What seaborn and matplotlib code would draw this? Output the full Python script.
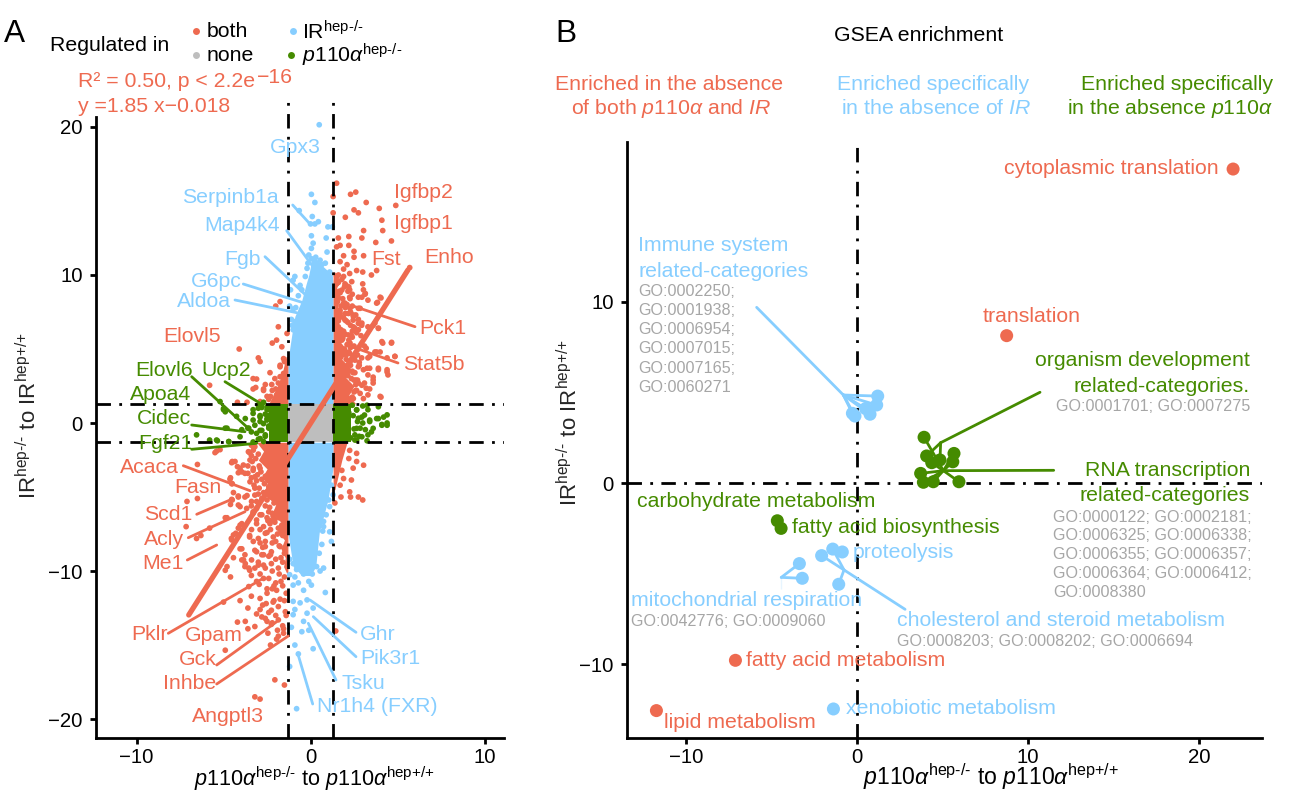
"""Panels A/B: regulation scatter and GSEA enrichment."""
import matplotlib
matplotlib.use("Agg")

import matplotlib.pyplot as plt
import pandas as pd
import seaborn as sns
from matplotlib.lines import Line2D
from matplotlib.transforms import Affine2D

RED = "#EE6A50"
BLUE = "#87CEFF"
GREEN = "#458B00"
GREY = "#BEBEBE"
TXT_GREY = "#A6A6A6"
PALETTE = {"both": RED, "none": GREY, "ir": BLUE, "p110": GREEN}

# ── panel A, scattered genes ──────────────────────────────────────────────────
both_x = [1.5, 1.3, 2.3, 2.6, 3.2, 4.9, 3.95, 2.5, 2.75, 1.3, 2.0, 4.1, 4.15, 3.05, 2.95, 2.2, 1.6, 1.5,
          4.65, 3.75, 2.2, 1.7, 2.5, 1.9, 3.05, 1.7, 2.5, 2.1, 5.7, 3.8, 3.5, 3.0, 2.65, 2.25, 1.9, 1.5,
          4.05, 3.85, 2.95, 3.15, 2.25, 2.75, 3.6, 3.9, 2.95, 2.45, 4.15, 4.65, 3.8, 4.85, 4.4, 3.9, 4.45,
          3.25, 3.6, 2.95, 4.0, 2.6, 2.9, 2.4, 3.1, 2.2, 2.7, 2.3, 3.3, 2.8, 2.4, 3.4, 2.6, 2.2, 3.0,
          -4.1, -5.8, -3.0, -2.9, -3.3, -3.15, -2.6, -2.7, -2.2, -2.2, -1.85, -1.35, -1.75, -2.0, -1.65,
          -1.95, -1.55, -1.75, -2.05, -1.85, -1.55, -2.3, -2.4,
          -5.4, -6.5, -4.5, -4.2, -3.95, -4.6, -4.5, -6.5, -7.1, -4.5, -4.15, -3.65, -4.6, -4.05, -4.8,
          -5.8, -7.15, -6.3, -6.55, -4.3, -4.55, -4.05, -3.95, -3.95, -4.8, -4.6, -3.75, -3.55, -2.7,
          -3.1, -3.55, -4.05, -5.0, -3.4, -2.9, -2.5, -1.95, -3.6, -2.9, -2.25, -1.85, -1.45, -2.8, -2.5,
          -1.85, -4.2, -3.75, -3.2, -3.6, -1.85, -2.3, -4.9, -2.05, -1.5, -3.2, -2.9, 1.45,
          2.25, 2.65, 2.2, 2.65, 3.05, 2.45, 1.8, 1.9, 2.35, 1.7, 2.25, 1.75, 2.75, 3.0, 2.3, 1.4,
          -3.3, -2.9, -2.5, -2.2, -3.1, -2.7, -2.3, -1.9, -3.5, -3.0, -2.6, -2.2, -1.8, -1.5, -3.2, -2.8,
          -2.4, -2.0, -1.6, -3.0, -2.6, -2.2, -1.8, -1.5, -2.9, -2.4, -2.0, -1.6, -1.4, -2.2, -3.4, -1.5,
          -2.1, -1.4, -2.2, -3.6, -3.4, -3.2, -3.4, -3.1,
          # upper right, closer read
          3.04, 3.13, 4.0, 3.8, 2.75, 3.3, 2.27, 1.98, 2.37, 1.8, 1.98, 2.27, 2.85, 2.18, 1.98, 2.75, 2.46, 2.75,
          2.94, 3.3, 3.9, 3.7, 1.7, 1.6, 1.9, 2.18, 2.46, 1.8, 2.27, 2.75, 3.2, 3.7, 4.0, 4.1, 4.66, 4.85, 4.4,
          3.4, 2.94, 3.04, 3.4, 3.9, 4.4, 3.3, 3.6, 2.75, 2.55, 3.1, 3.6, 3.2, 2.75, 2.85, 3.3, 4.05, 2.46, 3.04,
          2.05, 2.3, 2.55, 2.15, 2.4, 2.05, 2.6, 1.85, 2.2, 2.5, 1.75, 2.05, 2.35, 1.7, 2.0, 2.15, 1.6, 1.9, 2.5,
          # lower left, closer read
          -5.49, -5.2, -4.53, -4.34, -4.05, -3.86, -4.15, -3.77, -3.29, -2.9, -3.48, -3.29, -3.57, -4.63, -4.53,
          -3.48, -3.2, -4.43, -4.15, -3.77, -4.53, -4.15, -3.39, -3.67, -3.2, -3.1, -3.3, -2.8, -4.9, -3.95, -4.15,
          -4.43, -4.53, -3.39, -3.5, -3.1, -2.9, -2.6, -2.33, -2.14, -1.85, -3.29, -2.9, -2.6, -4.05, -3.77, -4.43,
          -3.1, -2.7, -2.25, -1.75, -3.39, -3.0, -3.77, -3.5, -3.2, -2.7, -2.25, -1.85, -4.9, -3.85,
          -2.45, -2.05, -1.65, -2.5, -2.0, -1.6, -2.75, -2.3, -1.7, -2.95, -2.5, -2.1, -1.7, -2.55, -2.15, -1.75,
          -3.1, -2.75, -2.4, -2.0, -1.6, -2.6, -2.25, -1.9, -1.55, -2.45, -1.95, -1.55,
          # upper left, closer read
          -2.33, -2.7, -3.3, -2.23, -3.1, -1.75, -2.0, -1.95, -2.5, -2.9, -3.65, -4.2, -1.75, -1.5,
          # body of the upper right cloud
          1.55, 1.75, 1.95, 2.15, 2.4, 2.65, 1.6, 1.85, 2.1, 2.35, 2.6, 1.65, 1.9, 2.2, 2.45, 2.7, 1.55, 1.8,
          2.05, 2.3, 2.55, 2.8, 1.7, 1.95, 2.25, 2.5, 1.6, 1.85, 2.1, 2.4, 2.65, 1.75, 2.0, 2.3, 2.55, 1.6,
          1.9, 2.15, 2.45, 2.75, 1.7, 2.0, 2.3, 1.55, 1.85, 2.1, 2.4, 1.65, 1.95, 2.25, 1.5, 1.8, 2.05, 1.6, 1.9,
          # body of the lower left cloud
          -3.2, -3.4, -3.0, -3.5, -3.15, -3.35, -2.95, -3.6, -3.3, -3.05, -2.85, -3.4, -3.1, -2.8, -2.6, -3.25,
          -2.95, -2.65, -2.4, -3.0, -2.7, -2.45, -2.2, -2.8, -2.5, -2.25, -2.0, -2.6, -2.35, -2.1, -1.85, -2.4,
          -2.15, -1.9, -1.65, -2.3, -2.05, -1.8, -1.6]
both_y = [16.2, 15.3, 15.45, 15.6, 14.9, 14.7, 14.5, 14.4, 14.2, 14.2, 13.9, 13.7, 13.0, 13.0, 12.5, 12.6, 12.5, 11.9,
          12.3, 12.2, 12.0, 12.0, 11.6, 11.3, 11.3, 10.9, 11.2, 10.7, 10.5, 10.3, 10.0, 10.2, 10.3, 10.1, 9.9, 9.9,
          8.45, 8.15, 8.5, 8.75, 8.5, 7.75, 6.6, 6.4, 6.75, 6.95, 5.4, 5.4, 4.8, 4.5, 3.6, 3.6, 3.25,
          3.7, 2.9, 2.55, 1.8, 7.3, 5.9, 6.2, 5.2, 5.6, 4.6, 4.2, 4.4, 3.9, 7.9, 2.3, 2.2, 9.2, 9.4,
          5.0, 2.55, 4.4, 4.15, 3.0, 2.4, 2.6, 2.2, 2.2, 5.4, 6.5, 6.05, 8.2, 7.9, 5.15,
          5.6, 4.35, 3.8, 3.0, 2.7, 3.35, 1.8, 1.6,
          -1.9, -2.8, -2.6, -2.95, -3.3, -3.7, -4.1, -5.1, -5.3, -5.2, -5.0, -4.9, -5.5, -5.65, -6.4,
          -7.1, -7.0, -7.6, -7.8, -7.45, -7.8, -6.9, -8.5, -9.25, -9.7, -10.4, -9.5, -9.8, -10.5,
          -10.7, -11.05, -12.0, -12.1, -11.7, -11.85, -11.5, -11.3, -12.5, -12.6, -12.65, -12.4, -12.75, -13.1, -13.4,
          -13.3, -13.45, -13.4, -13.75, -13.9, -14.4, -15.0, -15.35, -17.35, -17.7, -18.5, -18.65, -14.05,
          -1.85, -2.05, -2.4, -2.6, -2.85, -3.05, -3.2, -3.75, -3.85, -4.2, -4.65, -5.0, -5.0, -5.2, -5.0, -5.4,
          -6.0, -6.2, -6.4, -6.1, -6.8, -7.0, -7.2, -7.5, -7.6, -7.8, -8.0, -8.1, -8.3, -8.8, -8.6, -8.9,
          -9.0, -9.2, -9.4, -9.6, -9.8, -10.0, -10.2, -10.4, -10.2, -10.5, -10.8, -11.0, -11.5, -11.2, -10.3, -12.0,
          -12.0, -13.0, -13.5, -3.4, -2.2, -4.4, -5.6, -5.3,
          # upper right, closer read
          9.0, 8.7, 8.5, 8.1, 8.5, 8.3, 8.4, 9.4, 9.55, 8.98, 8.1, 7.75, 7.75, 7.4, 6.96, 6.73, 7.2, 6.3,
          6.6, 6.5, 6.4, 6.75, 7.4, 6.5, 6.2, 5.95, 6.5, 5.6, 5.4, 5.0, 5.05, 4.8, 4.8, 5.5, 5.45, 4.5, 4.4,
          4.5, 4.4, 3.6, 3.7, 3.7, 3.45, 3.25, 3.1, 3.8, 4.25, 2.7, 2.7, 2.35, 2.7, 2.0, 1.9, 1.75, 1.65, 1.65,
          4.6, 5.1, 3.4, 3.2, 3.5, 2.6, 2.9, 5.8, 4.8, 2.1, 7.9, 6.9, 5.9, 8.8, 7.4, 8.9, 9.5, 8.1, 2.9,
          # lower left, closer read
          -2.0, -1.8, -2.68, -2.6, -3.06, -2.84, -3.36, -3.4, -3.06, -3.06, -2.5, -1.83, -1.94, -3.8, -4.1,
          -3.97, -3.63, -4.7, -4.93, -5.0, -5.16, -5.54, -5.3, -5.77, -4.87, -5.77, -6.1, -6.2, -6.4, -6.8, -7.1,
          -7.56, -7.9, -7.2, -7.7, -6.55, -7.2, -7.45, -6.8, -7.7, -7.1, -8.0, -8.1, -8.35, -8.5, -8.9, -9.1,
          -8.7, -8.9, -8.7, -8.35, -9.25, -9.4, -9.7, -9.95, -9.8, -9.6, -9.5, -9.8, -9.95, -9.25,
          -6.6, -6.5, -6.9, -7.4, -8.0, -7.6, -8.4, -8.9, -9.1, -10.9, -11.2, -11.0, -10.7, -12.2, -12.1, -11.9,
          -12.9, -12.3, -12.8, -13.0, -13.7, -13.2, -13.6, -14.0, -13.9, -14.2, -14.6, -14.2,
          # upper left, closer read
          3.4, 2.3, 2.3, 2.6, 2.97, 3.13, 2.3, 1.9, 1.8, 1.45, 1.4, 1.4, 3.9, 4.15,
          # body of the upper right cloud
          1.6, 1.9, 1.5, 2.1, 1.75, 2.2, 2.5, 2.9, 2.4, 3.0, 2.6, 3.3, 3.1, 3.5, 3.4, 2.9, 4.0, 3.7,
          4.3, 3.9, 4.5, 4.1, 4.8, 5.0, 4.7, 5.2, 5.5, 5.7, 5.3, 5.8, 6.1, 6.3, 6.0, 6.6, 6.4, 6.9,
          7.1, 6.8, 7.3, 7.0, 7.6, 7.8, 7.5, 8.2, 8.4, 8.0, 8.7, 8.9, 9.2, 9.0, 9.4, 9.7, 9.3, 10.0, 10.4,
          # body of the lower left cloud
          -1.6, -1.5, -2.1, -2.0, -2.4, -2.6, -2.9, -2.9, -3.2, -3.5, -3.3, -3.7, -3.9, -3.8, -3.6, -4.2,
          -4.4, -4.1, -4.3, -4.8, -4.7, -4.6, -4.5, -5.1, -5.2, -5.0, -4.9, -5.6, -5.7, -5.4, -5.3, -6.0,
          -6.3, -5.9, -5.8, -6.6, -6.7, -6.4, -6.2]

ir_x = [0.5, 0.05, 0.25, -0.65, 0.1, 0.0, 0.25, 0.45, 1.0, 1.25, 0.05, 0.9, 0.15, 0.05, -0.1, 0.95, 0.05, -0.9, -1.0,
        -0.2, 0.65, 0.85, 1.1, -1.15, -0.5, -1.2, -1.0, -0.9, -1.0, 0.45, 0.75, -0.15, 0.3, 1.0,
        0.75, 0.55, -0.7, 0.85, -0.1, 0.05, -0.4, -1.0, -1.2, -0.9, -0.2, -1.0, -0.6, -0.9, 0.15, -0.2, -1.0,
        -1.1, -0.4, -0.1, -0.5, -0.9, 0.15, -0.7, -1.2, -0.8, 1.2, 1.1, 0.75, 0.75, 0.55, 1.1, 1.3, 0.65,
        -0.7, -0.85, -1.1, -1.05, -0.6, -0.3, 0.2, 0.55, -1.0, -0.8, -0.4, 0.1, 0.35, 0.5, 0.65, 0.7, 0.9, 1.05,
        1.2, -1.2]
ir_y = [20.15, 15.45, 14.9, 14.35, 13.95, 13.45, 13.45, 13.6, 13.25, 13.25, 12.65, 12.5, 12.15, 11.8, 11.35, 11.55, 11.1, 9.9, 9.65,
        10.45, 10.7, 10.8, 10.2, 9.0, 9.0, 7.9, 7.7, 6.85, 6.3, 10.1, 9.5, 10.8, 11.2, 9.7,
        -9.8, -10.0, -10.8, -11.45, -10.7, -10.95, -11.3, -10.95, -10.25, -10.4, -11.95, -12.05, -12.15, -12.6, -12.5, -12.85, -12.95,
        -13.8, -13.4, -14.0, -14.1, -15.0, -15.25, -15.6, -16.45, -19.3, -8.0, -7.35, -6.65, -7.0, -6.1, -5.65, -4.85, -5.0,
        8.6, 7.8, 7.0, 6.6, 9.3, 9.9, 10.6, 11.0, -9.5, -9.9, -10.2, -10.2, -9.7, -8.8, -8.2, -7.3, -6.2, -5.2,
        -4.2, -9.2]

p110_x = [-6.55, -5.8, -5.35, -4.7, -4.8, -5.0, -5.2, -4.25, -3.95, -3.55, -3.75, -3.3, -3.1, -3.3, -3.0, -2.7, -2.9, -2.6,
          -2.8, -3.0, -2.5, -2.7, -2.9, -2.4, -2.6, -2.3, -2.8, -2.5, -3.2, -3.4, -2.2, -2.4,
          4.4, 4.4, 4.1, 3.9, 3.4, 3.3, 3.25, 3.15, 3.5, 2.85, 2.55, 3.25, 2.65, 2.95, 2.65, 2.4, 2.7, 2.5, 2.3, 2.8, 2.2, 2.45, 3.0,
          -5.0, -4.9, -4.9, -5.4, -4.7, -4.05, -3.6, -3.3, -3.0, -2.9, -2.7, -2.9, -2.6, -2.9, -3.3, -2.5, -2.5, -2.4,
          2.65, 2.75, 2.65, 2.55, 3.1, 3.0, 3.4, 3.8, 4.2, 3.9, 3.6, 4.1, 4.4, 3.3, 2.95]
p110_y = [-0.8, -1.15, -1.2, -1.25, -0.35, 0.9, 1.45, 0.45, -0.45, -0.35, 0.3, 0.65, -0.7, 0.9, 1.2, 1.4, 0.1, 0.6,
          -0.5, -1.1, 1.1, -1.25, 0.4, -0.2, -0.9, 0.85, 1.05, 0.2, -0.15, -0.6, -1.1, 0.5,
          0.55, -0.15, -0.15, 0.3, 0.2, 0.9, 1.2, -0.45, -0.6, -0.35, -0.8, -1.2, -1.15, 0.4, 0.9, 1.2, 0.1, -0.4, -1.0, -0.9, 0.7, 0.5, 1.15,
          0.98, 0.76, -0.35, -1.15, -1.26, -0.93, -0.35, 0.2, 1.0, 0.5, -0.04, -0.5, -0.8, -1.05, -1.28, 0.9, 0.3, -0.35,
          0.88, 0.32, -0.36, -1.15, 0.54, 0.0, 0.1, 0.3, 0.4, 1.1, -0.36, -0.1, 0.0, -0.8, -0.93]

# dense parts of the cloud, given as outlines: level on y, extent on x
ir_up_y = [1.3, 3.8, 5.0, 6.1, 7.2, 8.3, 9.4, 10.0, 10.6, 11.2]
ir_up_lo = [-1.3, -1.3, -1.2, -1.06, -0.9, -0.5, -0.25, -0.1, 0.0, 0.05]
ir_up_hi = [1.3, 1.3, 1.3, 1.3, 1.3, 1.3, 1.3, 1.25, 0.7, 0.25]
ir_dn_y = [-1.3, -3.0, -5.2, -7.4, -9.7, -10.3]
ir_dn_lo = [-1.3, -1.3, -1.3, -1.3, -1.0, -0.5]
ir_dn_hi = [1.3, 1.3, 1.0, 0.5, 0.3, 0.0]
both_ur_y = [1.3, 1.9, 2.5, 3.1, 3.7, 4.3, 4.9, 5.5, 6.1, 6.7, 7.3, 7.9, 8.5, 9.1, 9.7, 10.2]
both_ur_hi = [2.6, 2.2, 2.5, 2.0, 2.3, 1.8, 2.1, 1.7, 1.95, 1.6, 1.85, 1.55, 1.75, 1.5, 1.65, 1.4]
both_ll_y = [-1.3, -1.9, -2.5, -3.1, -3.7, -4.3, -4.9, -5.5, -6.1, -6.7, -7.3, -7.9, -8.5, -9.1, -9.7, -10.2]
both_ll_lo = [-3.1, -2.7, -3.0, -2.5, -2.8, -2.3, -2.6, -2.0, -2.2, -1.7, -1.9, -1.5, -1.7, -1.45, -1.55, -1.35]
both_ul_y = [1.3, 2.5, 3.5, 4.5]
both_ul_lo = [-2.4, -1.9, -1.6, -1.4]
both_lr_y = [-1.3, -2.5, -3.5, -4.5]
both_lr_hi = [2.1, 1.8, 1.6, 1.4]
none_x = [-1.3, 1.3]
none_y = [-1.3, 1.3]
p110_left_x = [-2.4, -1.3]
p110_right_x = [1.3, 2.3]

fit_x = [-7.0, 5.6]
fit_y = [-12.97, 10.34]
CUT_X = 1.3
CUT_Y = 1.3

# ── panel B, enriched GO groups ───────────────────────────────────────────────
gsea_red_x = [21.99, 8.75, -7.11, -11.73]
gsea_red_y = [17.3, 8.12, -9.77, -12.54]
immune_x = [1.21, 1.15, 0.76, -0.12, -0.27, 0.5]
immune_y = [4.79, 4.3, 3.79, 3.69, 3.84, 4.1]
organism_x = [4.07, 4.85]
organism_y = [1.49, 1.27]
rna_x = [3.92, 4.37, 5.67, 5.6, 3.72, 3.88, 4.46, 5.96]
rna_y = [2.52, 1.12, 1.63, 1.17, 0.53, 0.04, 0.07, 0.07]
fasyn_x = [-4.66, -4.44]
fasyn_y = [-2.08, -2.5]
chol_x = [-1.42, -1.07, -2.07]
chol_y = [-3.64, -5.58, -4.0]
proteo_x = [-0.86]
proteo_y = [-3.8]
mito_x = [-3.37, -3.2]
mito_y = [-4.44, -5.25]
xeno_x = [-1.38]
xeno_y = [-12.45]

# ── labels ───────────────────────────────────────────────────────────────────
genes_red = ["Elovl5", "Acaca", "Fasn", "Scd1", "Acly", "Me1", "Pklr", "Gpam", "Gck", "Inhbe", "Angptl3",
             "Igfbp2", "Igfbp1", "Fst", "Enho", "Pck1", "Stat5b"]
genes_red_at = [(163, 335), (120, 466), (174, 486), (144, 513), (144, 538), (142, 562), (131, 633), (185, 634),
                (179, 658), (163, 682), (192, 715), (394, 191), (394, 222), (371, 258), (424, 256), (419, 327), (403, 363)]
genes_blue = ["Gpx3", "Serpinb1a", "Map4k4", "Fgb", "G6pc", "Aldoa", "Ghr", "Pik3r1", "Tsku", "Nr1h4 (FXR)"]
genes_blue_at = [(270, 146), (182, 196), (204, 224), (224, 258), (191, 280), (177, 300), (360, 633), (360, 657),
                 (342, 682), (317, 705)]
genes_green = ["Elovl6", "Ucp2", "Apoa4", "Cidec", "Fgf21"]
genes_green_at = [(135, 369), (201, 369), (130, 393), (137, 417), (138, 442)]

leaders_red = [((415, 326.7), (353, 306)), ((398, 363), (347, 345)), ((183.3, 465.7), (250, 490.7)),
               ((196.7, 514.3), (231.7, 499.3)), ((188.3, 537.7), (245, 511.7)), ((187.3, 560), (216.7, 545)),
               ((168.3, 633.3), (263.3, 578.3)), ((216.7, 665), (276.7, 621.7)), ((216.7, 684), (288.3, 636))]
leaders_blue = [((292.7, 205), (310, 224)), ((286.7, 230.7), (313, 266.7)), ((265, 256.7), (306.7, 296)),
                ((243.3, 284), (305, 303.3)), ((235, 300), (296.7, 312.7)), ((356, 632.3), (310, 600)),
                ((356, 656.7), (313.3, 616.7)), ((336, 680), (308.3, 623.3)), ((312.7, 704), (297.7, 653.3))]
leaders_green = [((191.7, 376.7), (248, 428)), ((225, 381.7), (263, 405)), ((191.7, 425), (245, 431.7)),
                 ((191.7, 449.3), (256.7, 443.3))]

immune_go = ["GO:0002250;", "GO:0001938;", "GO:0006954;", "GO:0007015;", "GO:0007165;", "GO:0060271"]
rna_go = ["GO:0000122; GO:0002181;", "GO:0006325; GO:0006338;", "GO:0006355; GO:0006357;",
          "GO:0006364; GO:0006412;", "GO:0008380"]

sns.set_theme(style="ticks")
plt.rcParams["font.family"] = ["Liberation Sans", "DejaVu Sans"]
plt.rcParams["mathtext.fontset"] = "custom"
plt.rcParams["mathtext.rm"] = "Liberation Sans"
plt.rcParams["mathtext.it"] = "Liberation Sans:italic"
plt.rcParams["mathtext.bf"] = "Liberation Sans:bold"
plt.rcParams["mathtext.default"] = "regular"
FS = 15.3
GO_FS = 11.6
LW = 2.0
KO = r"$^{\text{hep-/-}}$"
WT = r"$^{\text{hep+/+}}$"
P110 = r"$\mathit{p110\alpha}$"
DASHDOT = (0, (5.2, 3, 1, 3))

W, H = 1298, 793
fig = plt.figure(figsize=(W / 100, H / 100), dpi=100)
PX = Affine2D().scale(1, -1).translate(0, H)


def put(x, y, s, color="black", size=FS, ha="left", **kw):
    fig.text(x, y + 1.5, s, transform=PX, color=color, fontsize=size, ha=ha, va="center", **kw)


def rect(left, right, top, bottom):
    return [left / W, 1 - bottom / H, (right - left) / W, (bottom - top) / H]


def style_axes(ax, xticks, yticks, spine_top):
    sns.despine(ax=ax)
    for side in ("left", "bottom"):
        ax.spines[side].set_linewidth(2)
        ax.spines[side].set_color("black")
    ax.spines["left"].set_bounds(ax.get_ylim()[0], spine_top)
    ax.set_xticks(xticks)
    ax.set_yticks(yticks)
    ax.tick_params(width=2, length=4.5, color="black", labelsize=14.7, labelcolor="black")
    ax.tick_params(axis="x", pad=3)
    ax.tick_params(axis="y", pad=5)
    ax.patch.set_alpha(0)
    ax.set_xlabel("")
    ax.set_ylabel("")


# ── Panel A ──────────────────────────────────────────────────────────────────
ax = fig.add_axes(rect(96, 504, 95, 738))
ax.set_xlim(-12.33, 11.12)
ax.set_ylim(-21.28, 22.16)

ax.fill_betweenx(ir_up_y, ir_up_lo, ir_up_hi, color=BLUE, lw=0, zorder=1)
ax.fill_betweenx(ir_dn_y, ir_dn_lo, ir_dn_hi, color=BLUE, lw=0, zorder=1)
ax.fill_between(none_x, none_y[0], none_y[1], color=GREY, lw=0, zorder=1)
ax.fill_betweenx(both_ur_y, CUT_X, both_ur_hi, color=RED, lw=0, zorder=1)
ax.fill_betweenx(both_ll_y, both_ll_lo, -CUT_X, color=RED, lw=0, zorder=1)
ax.fill_betweenx(both_ul_y, both_ul_lo, -CUT_X, color=RED, lw=0, zorder=1)
ax.fill_betweenx(both_lr_y, CUT_X, both_lr_hi, color=RED, lw=0, zorder=1)
ax.fill_between(p110_left_x, -CUT_Y, CUT_Y, color=GREEN, lw=0, zorder=1)
ax.fill_between(p110_right_x, -CUT_Y, CUT_Y, color=GREEN, lw=0, zorder=1)

genes = pd.concat([
    pd.DataFrame({"x": ir_x, "y": ir_y, "group": "ir"}),
    pd.DataFrame({"x": both_x, "y": both_y, "group": "both"}),
    pd.DataFrame({"x": p110_x, "y": p110_y, "group": "p110"}),
])
sns.scatterplot(data=genes, x="x", y="y", hue="group", palette=PALETTE, s=17, linewidth=0,
                legend=False, ax=ax, zorder=2)
for v in (-CUT_X, CUT_X):
    ax.axvline(v, color="black", lw=LW, ls=DASHDOT, zorder=3)
for v in (-CUT_Y, CUT_Y):
    ax.axhline(v, color="black", lw=LW, ls=DASHDOT, zorder=3)
sns.lineplot(x=fit_x, y=fit_y, color=RED, lw=3.8, ax=ax, zorder=4)
style_axes(ax, [-10, 0, 10], [-20, -10, 0, 10, 20], 20.68)

for pairs, col in ((leaders_red, RED), (leaders_blue, BLUE), (leaders_green, GREEN)):
    for (x0, y0), (x1, y1) in pairs:
        fig.add_artist(Line2D([x0, x1], [y0, y1], transform=PX, color=col, lw=LW))
for names, spots, col in ((genes_red, genes_red_at, RED), (genes_blue, genes_blue_at, BLUE),
                          (genes_green, genes_green_at, GREEN)):
    for name, (x, y) in zip(names, spots):
        put(x, y, name, col)

put(4, 32, "A", size=22.8)
put(50, 44, "Regulated in")
for x, y, col in ((196, 31, RED), (196, 55, GREY), (293, 31, BLUE), (291, 55, GREEN)):
    fig.add_artist(Line2D([x], [y], transform=PX, marker="o", ms=5, mfc=col, mec="none", ls=""))
put(207, 30, "both")
put(207, 54, "none")
put(302, 30, "IR" + KO)
put(302, 54, P110 + KO)
put(78, 80, "R² = 0.50, p < 2.2e", RED)
put(257, 76, "−16", RED, size=FS)
put(78, 105, "y =1.85 x−0.018", RED)
put(314, 777, P110 + KO + " to " + P110 + WT, size=FS * 1.02, ha="center")
fig.text(29, 416, "IR" + KO + " to IR" + WT, transform=PX, fontsize=16, rotation=90, ha="center", va="center")

# ── Panel B ──────────────────────────────────────────────────────────────────
bx = fig.add_axes(rect(627, 1262, 142, 738))
bx.set_xlim(-13.45, 23.68)
bx.set_ylim(-14.05, 18.79)

bx.axvline(0, color="black", lw=LW, ls=DASHDOT, zorder=1)
bx.axhline(0, color="black", lw=LW, ls=DASHDOT, zorder=1)


def spokes(hub, xs, ys, col, tail=None):
    # connector from the label end to a hub, then one branch per term
    if tail is not None:
        sns.lineplot(x=[tail[0], hub[0]], y=[tail[1], hub[1]], color=col, lw=LW, ax=bx, sort=False, zorder=2)
    for px_, py_ in zip(xs, ys):
        sns.lineplot(x=[hub[0], px_], y=[hub[1], py_], color=col, lw=LW, ax=bx, sort=False, zorder=2)


spokes((-0.8, 4.85), immune_x, immune_y, BLUE, tail=(-5.87, 9.68))
spokes((4.89, 2.22), organism_x, organism_y, GREEN, tail=(10.7, 5.0))
spokes((5.05, 0.68), rna_x, rna_y, GREEN, tail=(11.5, 0.7))
spokes((-0.76, -4.79), chol_x, chol_y, BLUE, tail=(2.81, -6.96))
spokes((-4.43, -5.2), mito_x, mito_y, BLUE, tail=(-4.43, -5.86))

terms = pd.concat([
    pd.DataFrame({"x": gsea_red_x, "y": gsea_red_y, "group": "both"}),
    pd.DataFrame({"x": immune_x + chol_x + proteo_x + mito_x + xeno_x,
                  "y": immune_y + chol_y + proteo_y + mito_y + xeno_y, "group": "ir"}),
    pd.DataFrame({"x": organism_x + rna_x + fasyn_x, "y": organism_y + rna_y + fasyn_y, "group": "p110"}),
])
sns.scatterplot(data=terms, x="x", y="y", hue="group", palette=PALETTE, s=88, linewidth=0,
                legend=False, ax=bx, zorder=3)
style_axes(bx, [-10, 0, 10, 20], [-10, 0, 10], 18.79)

put(555, 32, "B", size=22.8)
put(919, 34, "GSEA enrichment", ha="center")
put(669, 83, "Enriched in the absence", RED, ha="center")
put(671, 107, "of both " + P110 + " and " + r"$\mathit{IR}$", RED, ha="center")
put(933, 83, "Enriched specifically", BLUE, ha="center")
put(936, 107, "in the absence of " + r"$\mathit{IR}$", BLUE, ha="center")
put(1273, 83, "Enriched specifically", GREEN, ha="right")
put(1273, 107, "in the absence " + P110, GREEN, ha="right")

put(1219, 167, "cytoplasmic translation", RED, ha="right")
put(983, 315, "translation", RED)
put(638, 244, "Immune system", BLUE)
put(638, 270, "related-categories", BLUE)
for line, y in zip(immune_go, (290, 309, 328, 347, 367, 386)):
    put(638, y, line, TXT_GREY, size=GO_FS)
put(1250, 359, "organism development", GREEN, ha="right")
put(1250, 385, "related-categories.", GREEN, ha="right")
put(1250, 405, "GO:0001701; GO:0007275", TXT_GREY, size=GO_FS, ha="right")
put(1250, 469, "RNA transcription", GREEN, ha="right")
put(1250, 494, "related-categories", GREEN, ha="right")
for line, y in zip(rna_go, (516, 534, 553, 572, 591)):
    put(1053, y, line, TXT_GREY, size=GO_FS)
put(637, 500, "carbohydrate metabolism", GREEN)
put(792, 526, "fatty acid biosynthesis", GREEN)
put(853, 551, "proteolysis", BLUE)
put(631, 599, "mitochondrial respiration", BLUE)
put(631, 620, "GO:0042776; GO:0009060", TXT_GREY, size=GO_FS)
put(897, 619, "cholesterol and steroid metabolism", BLUE)
put(897, 640, "GO:0008203; GO:0008202; GO:0006694", TXT_GREY, size=GO_FS)
put(746, 659, "fatty acid metabolism", RED)
put(664, 721, "lipid metabolism", RED)
put(846, 707, "xenobiotic metabolism", BLUE)
put(991, 775, P110 + KO + " to " + P110 + WT, size=FS * 1.085, ha="center")
fig.text(570, 423, "IR" + KO + " to IR" + WT, transform=PX, fontsize=16, rotation=90, ha="center", va="center")

fig.savefig("out.png", dpi=100)
plt.close(fig)
